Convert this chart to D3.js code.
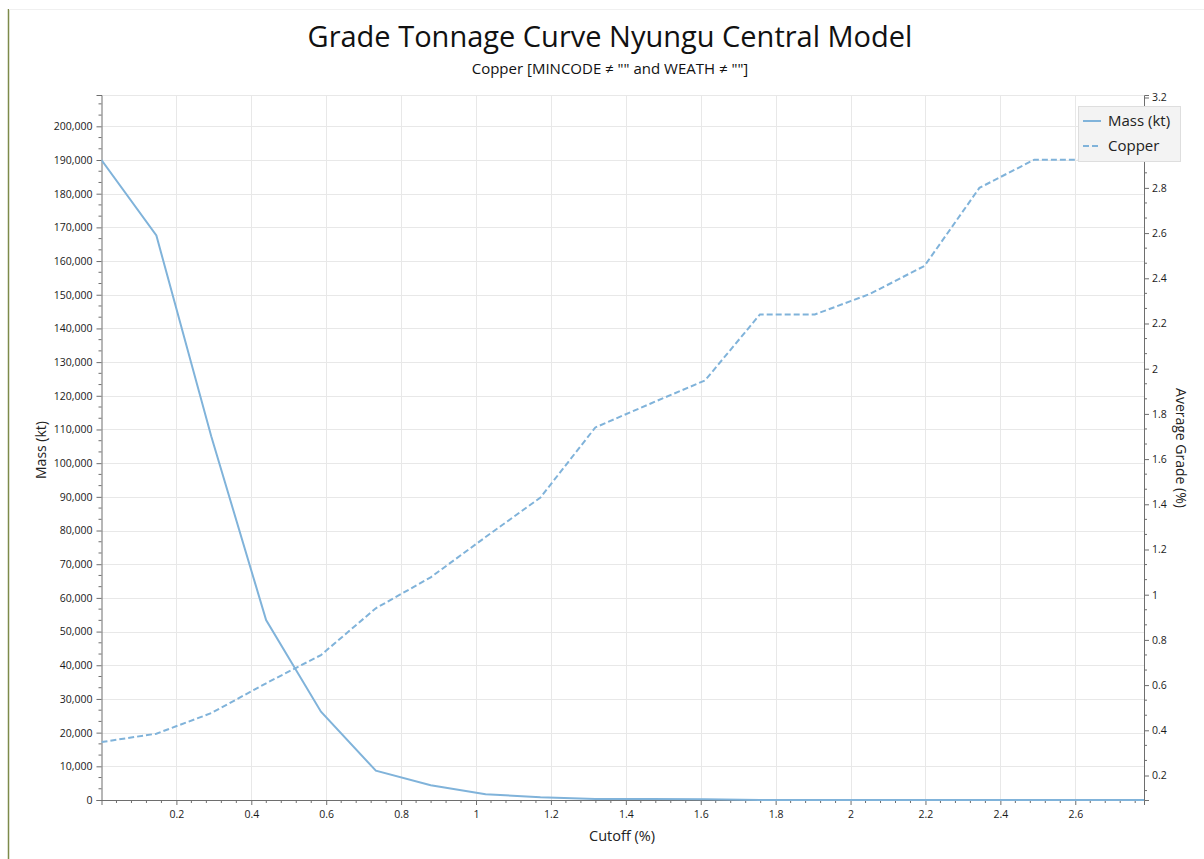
<!DOCTYPE html>
<html>

<head>
    <meta charset="utf-8">
    <style>
        body {
            margin: 0;
            background: white;
            font-family: "Open Sans", "Noto Sans", sans-serif;
        }

        svg {
            display: block;
        }

        .tick text {
            font-size: 10.5px;
            fill: #1a1a1a;
        }

        .grid line {
            stroke: #e8e8e8;
        }
    </style>
</head>

<body>
    <svg width="1204" height="859"></svg>
</body>

<script src="https://d3js.org/d3.v7.min.js"></script>

<script>
    // cutoff step index (0..19), grade step is ~0.1465 %
    let cutoff = [0, 0.1465, 0.293, 0.4395, 0.586, 0.7325, 0.879, 1.0255, 1.172, 1.3185,
        1.465, 1.6115, 1.758, 1.9045, 2.051, 2.1975, 2.344, 2.4905, 2.637, 2.7835]

    let mass = [190000, 167600, 108000, 53400, 26200, 8700, 4400, 1700, 800, 300,
        280, 220, 0, 0, 0, 0, 0, 0, 0, 0]

    let copper = [0.348, 0.385, 0.476, 0.608, 0.733, 0.94, 1.077, 1.255, 1.43, 1.74,
        1.845, 1.948, 2.24, 2.24, 2.33, 2.455, 2.8, 2.925, 2.925, 2.925]

    let massTicks = d3.range(0, 200001, 10000)
    let gradeTicks = [0.2, 0.4, 0.6, 0.8, 1, 1.2, 1.4, 1.6, 1.8, 2, 2.2, 2.4, 2.6, 2.8, 3, 3.2]
    let cutoffTicks = [0.2, 0.4, 0.6, 0.8, 1, 1.2, 1.4, 1.6, 1.8, 2, 2.2, 2.4, 2.6]

    let pLeft = 101.5, pRight = 1144, pTop = 95, pBottom = 800
    let lineColor = "#80b3da"

    let svg = d3.select("svg")

    let x = d3.scaleLinear().domain([0, 2.7835]).range([pLeft, pRight])
    let yMass = d3.scaleLinear().domain([0, 209300]).range([pBottom, pTop])
    let yGrade = d3.scaleLinear().domain([0.0916, 3.211]).range([pBottom, pTop])

    // outer frame bits
    svg.append("line")
        .attr("x1", 8.5).attr("x2", 8.5).attr("y1", 9).attr("y2", 859)
        .style("stroke", "#7d8a4a").style("stroke-width", 1.5)
    svg.append("line")
        .attr("x1", 9).attr("x2", 1204).attr("y1", 9.5).attr("y2", 9.5)
        .style("stroke", "#f0f0f0")

    // titles
    svg.append("text")
        .attr("x", 610).attr("y", 47)
        .attr("text-anchor", "middle")
        .style("font-size", "29px")
        .style("fill", "#111")
        .text("Grade Tonnage Curve Nyungu Central Model")

    svg.append("text")
        .attr("x", 610).attr("y", 74)
        .attr("text-anchor", "middle")
        .style("font-size", "15px")
        .style("fill", "#111")
        .text("Copper [MINCODE ≠ \"\" and WEATH ≠ \"\"]")

    // grid
    let grid = svg.append("g").attr("class", "grid")
    grid.selectAll(".gx")
        .data(cutoffTicks)
        .join("line")
        .attr("x1", d => Math.round(x(d)) + 0.5).attr("x2", d => Math.round(x(d)) + 0.5)
        .attr("y1", pTop).attr("y2", pBottom)
    grid.selectAll(".gy")
        .data(massTicks.filter(d => d > 0))
        .join("line")
        .attr("x1", pLeft).attr("x2", pRight)
        .attr("y1", d => Math.round(yMass(d)) + 0.5).attr("y2", d => Math.round(yMass(d)) + 0.5)
    grid.append("line")
        .attr("x1", pLeft).attr("x2", pRight)
        .attr("y1", pTop + 0.5).attr("y2", pTop + 0.5)

    // minor ticks
    let massMinor = d3.range(0, 209300, 10000 / 3).filter((d, i) => i % 3 != 0)
    let gradeMinor = d3.range(0.2 - 0.2 / 3, 3.211, 0.2 / 3).filter((d, i) => i % 3 != 1)
    let cutoffMinor = d3.range(0, 2.78, 0.04).filter((d, i) => i % 5 != 0)

    let axisColor = "#6e6e6e"

    let leftAxis = svg.append("g")
        .attr("transform", "translate(" + pLeft + ",0)")
        .call(d3.axisLeft(yMass).tickValues(massTicks).tickSize(5).tickPadding(4)
            .tickFormat(d3.format(",")))
    leftAxis.append("g").selectAll("line")
        .data(massMinor)
        .join("line")
        .attr("x1", -3).attr("x2", 0)
        .attr("y1", d => yMass(d)).attr("y2", d => yMass(d))

    // the "3" label sits under the legend in the original, so it is left blank
    let rightAxis = svg.append("g")
        .attr("transform", "translate(" + pRight + ",0)")
        .call(d3.axisRight(yGrade).tickValues(gradeTicks).tickSize(5).tickPadding(3)
            .tickFormat(d => d == 3 ? "" : d3.format("~g")(d)))
    rightAxis.append("g").selectAll("line")
        .data(gradeMinor)
        .join("line")
        .attr("x1", 0).attr("x2", 3)
        .attr("y1", d => yGrade(d)).attr("y2", d => yGrade(d))

    let bottomAxis = svg.append("g")
        .attr("transform", "translate(0," + pBottom + ")")
        .call(d3.axisBottom(x).tickValues(cutoffTicks).tickSize(5).tickPadding(6)
            .tickFormat(d => d3.format("~g")(d)))
    bottomAxis.append("g").selectAll("line")
        .data(cutoffMinor)
        .join("line")
        .attr("x1", d => x(d)).attr("x2", d => x(d))
        .attr("y1", 0).attr("y2", 3)

    svg.selectAll(".domain, .tick line, g > g > line")
        .style("stroke", axisColor)
    svg.selectAll(".grid line").style("stroke", "#e8e8e8")
    svg.selectAll(".tick text").style("font-family", "'Open Sans', sans-serif")

    // axis titles
    svg.append("text")
        .attr("transform", "translate(46,450) rotate(-90)")
        .attr("text-anchor", "middle")
        .style("font-size", "14px")
        .style("fill", "#222")
        .text("Mass (kt)")

    svg.append("text")
        .attr("transform", "translate(1176,448) rotate(90)")
        .attr("text-anchor", "middle")
        .style("font-size", "14px")
        .style("fill", "#222")
        .text("Average Grade (%)")

    svg.append("text")
        .attr("x", 622).attr("y", 841)
        .attr("text-anchor", "middle")
        .style("font-size", "14.5px")
        .style("fill", "#222")
        .text("Cutoff (%)")

    // lines
    let idx = d3.range(cutoff.length)

    svg.append("clipPath").attr("id", "plot-clip")
        .append("rect")
        .attr("x", pLeft).attr("y", pTop).attr("width", pRight - pLeft).attr("height", pBottom - pTop + 1)

    let massLine = d3.line()
        .x(i => x(cutoff[i]))
        .y(i => yMass(mass[i]))

    let copperLine = d3.line()
        .x(i => x(cutoff[i]))
        .y(i => yGrade(copper[i]))

    svg.append("path")
        .attr("clip-path", "url(#plot-clip)")
        .attr("d", massLine(idx))
        .style("fill", "none")
        .style("stroke", lineColor)
        .style("stroke-width", 2)

    svg.append("path")
        .attr("clip-path", "url(#plot-clip)")
        .attr("d", copperLine(idx))
        .style("fill", "none")
        .style("stroke", lineColor)
        .style("stroke-width", 2)
        .style("stroke-dasharray", "6,3")

    // legend
    let legend = svg.append("g").attr("transform", "translate(1078,106)")
    legend.append("rect")
        .attr("x", 0.5).attr("y", 0.5).attr("width", 102).attr("height", 55)
        .style("fill", "#f3f3f3")
        .style("stroke", "#dedede")

    let legendItems = [
        { name: "Mass (kt)", dash: null },
        { name: "Copper", dash: "6,3" }
    ]

    legend.selectAll(".li")
        .data(legendItems)
        .join("line")
        .attr("x1", 5).attr("x2", 23)
        .attr("y1", (d, i) => 15 + i * 25).attr("y2", (d, i) => 15 + i * 25)
        .style("stroke", lineColor)
        .style("stroke-width", 2)
        .style("stroke-dasharray", d => d.dash)

    legend.selectAll(".lt")
        .data(legendItems)
        .join("text")
        .attr("x", 30)
        .attr("y", (d, i) => 20 + i * 25)
        .style("font-size", "15px")
        .style("fill", "#222")
        .text(d => d.name)
</script>

</html>
